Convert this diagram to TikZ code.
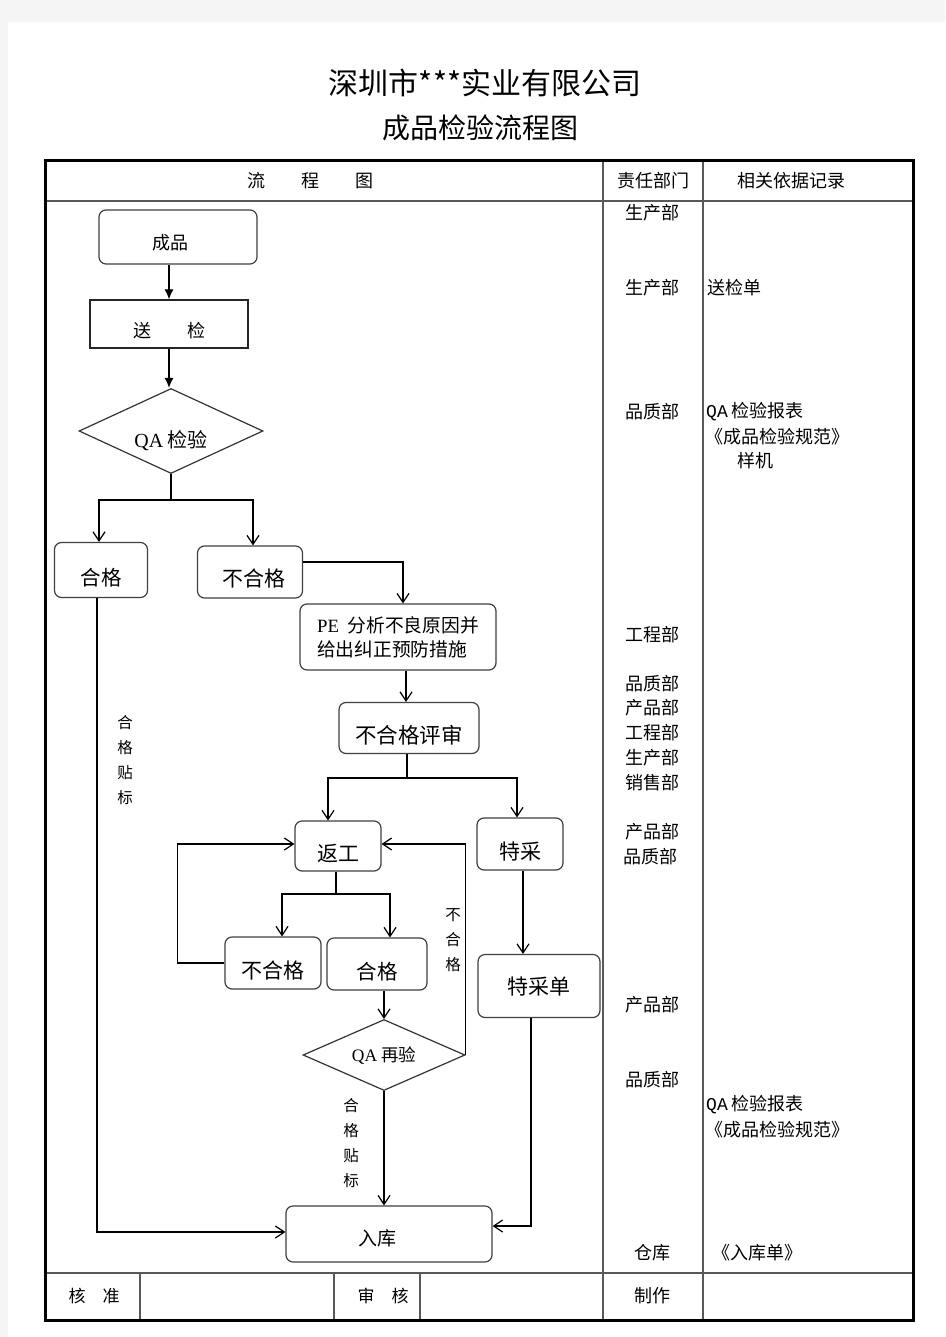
\documentclass[tikz,border=0pt]{standalone}
\usepackage{fontspec}
\setmainfont{Noto Sans CJK SC}
\newfontfamily\latin{Liberation Serif}
\newfontfamily\mono{Liberation Mono}
\usetikzlibrary{shapes.geometric,arrows.meta}

\begin{document}
\begin{tikzpicture}[x=1pt,y=-1pt,
    box/.style={draw=black!75,line width=1.2pt,rounded corners=7pt,inner sep=0pt,font=\fontsize{21}{24}\selectfont},
    sqbox/.style={draw=black!85,line width=1.2pt,inner sep=0pt,font=\fontsize{18}{20}\selectfont},
    dia/.style={draw=black!80,line width=1.2pt,diamond,aspect=2.2,inner sep=0pt},
    drop/.style={text depth=0pt,text height=#1},
    arr/.style={-{Straight Barb[length=9pt,width=12pt]},line width=1.2pt},
    farr/.style={-{Latex[length=10pt,width=9pt]},line width=1.2pt},
    dept/.style={inner sep=0pt,font=\fontsize{18}{20}\selectfont},
    rec/.style={dept,anchor=west},
    vlab/.style={align=center,inner sep=0pt,font=\fontsize{15.5}{25}\selectfont},
    grid/.style={draw=black!65,line width=1.2pt}]
  \useasboundingbox (0,0) rectangle (945,1337);
  \fill[black!4] (0,0) rectangle (945,1337);
  \fill[white] (8,22) rectangle (945,1337);

  \node[font=\fontsize{30}{32}\selectfont] (title) at (485,83) {深圳市***实业有限公司};
  \node[font=\fontsize{28}{30}\selectfont] (subtitle) at (480,128) {成品检验流程图};

  \draw[grid] (45,201) -- (913,201) (45,1273) -- (913,1273)
    (603,161) -- (603,1320) (703,161) -- (703,1320)
    (140,1273) -- (140,1320) (334,1273) -- (334,1320) (420,1273) -- (420,1320);
  \draw[line width=3pt] (45,161) rectangle (913,1320);

  \node[dept] (hflow) at (310,181) {流　　程　　图};
  \node[dept] (hdept) at (653,181) {责任部门};
  \node[dept] (hrec) at (791,181) {相关依据记录};
  \node[dept,font=\fontsize{17}{20}\selectfont] (fapprove) at (94,1296) {核　准};
  \node[dept,font=\fontsize{17}{20}\selectfont] (fcheck) at (383,1296) {审　核};
  \node[dept] (fmake) at (652,1296) {制作};

  \foreach \y/\t in {213/生产部,288/生产部,412/品质部,635/工程部,684/品质部,708/产品部,733/工程部,758/生产部,783/销售部,832/产品部,1005/产品部,1080/品质部,1253/仓库}
    \node[dept] (d\y) at (652,\y) {\t};
  \node[dept] (d857) at (650,857) {品质部};

  \node[rec] (rsend) at (707,288) {送检单};
  \node[rec] (rqa) at (706,412) {{\mono QA} 检验报表};
  \node[rec] (rspec) at (705,437) {《成品检验规范》};
  \node[rec] (rsample) at (737,461) {样机};
  \node[rec] (rqa2) at (706,1105) {{\mono QA} 检验报表};
  \node[rec] (rspec2) at (705,1130) {《成品检验规范》};
  \node[rec] (rstore) at (712,1253) {《入库单》};

  \node[box,drop=26pt,minimum width=158,minimum height=54,font=\fontsize{18}{20}\selectfont] (product) at (178,237) {成品\kern16pt};
  \node[sqbox,drop=26pt,minimum width=158,minimum height=48] (send) at (169,324) {送　　检};
  \node[dia,drop=33pt,minimum width=184,minimum height=85,font=\fontsize{20}{22}\selectfont] (qa) at (171,431) {{\latin QA} 检验};
  \node[box,drop=30pt,minimum width=93,minimum height=55,font=\fontsize{20.5}{24}\selectfont] (pass) at (101,570) {合格};
  \node[box,drop=28pt,minimum width=105,minimum height=52] (fail) at (250,572) {\kern7pt 不合格};
  \node[box,minimum width=196,minimum height=66,align=left,font=\fontsize{18.75}{24}\selectfont] (pe) at (398,637) {{\latin PE}\ \ 分析不良原因并\\给出纠正预防措施};
  \node[box,drop=30pt,minimum width=140,minimum height=51,font=\fontsize{21.5}{24}\selectfont] (review) at (409,728) {不合格评审};
  \node[box,drop=30pt,minimum width=86,minimum height=50] (rework) at (338,846) {返工};
  \node[box,drop=30pt,minimum width=86,minimum height=52] (special) at (520,844) {特采};
  \node[box,drop=30pt,minimum width=96,minimum height=52] (rfail) at (273,963) {不合格};
  \node[box,drop=30pt,minimum width=100,minimum height=52,font=\fontsize{20.5}{24}\selectfont] (rpass) at (377,964) {合格};
  \node[dia,minimum width=162,minimum height=71,font=\fontsize{17.5}{20}\selectfont] (recheck) at (384,1055) {{\latin QA} 再验};
  \node[box,minimum width=122,minimum height=63] (sform) at (539,986) {特采单};
  \node[box,drop=22pt,minimum width=206,minimum height=56,font=\fontsize{19}{22}\selectfont] (store) at (389,1234) {入库\kern24pt};

  \node[vlab] (lab1) at (125,760) {合\\格\\贴\\标};
  \node[vlab] (lab2) at (351,1143) {合\\格\\贴\\标};
  \node[vlab] (lab3) at (453,940) {不\\合\\格};

  \coordinate (qsplit) at (171,500);
  \coordinate (rsplit) at (407,778);
  \coordinate (wsplit) at (336,894);

  \draw[farr] (product.south -| send.north) -- (send.north);
  \draw[farr] (send.south) -- (send.south |- qa.north);
  \draw[line width=1.2pt] (qa.south) -- (qsplit);
  \draw[arr] (qsplit) -| ([xshift=-2]pass.north);
  \draw[arr] (qsplit) -| ([xshift=3]fail.north);
  \draw[arr] ([yshift=10]fail.east) -| ([xshift=5]pe.north);
  \draw[arr] ([xshift=-3]review.north |- pe.south) -- ([xshift=-3]review.north);
  \draw[line width=1.2pt] ([xshift=-2]review.south) -- (rsplit);
  \draw[arr] (rsplit) -| ([xshift=-10]rework.north);
  \draw[arr] (rsplit) -| ([xshift=-3]special.north);
  \draw[line width=1.2pt] ([xshift=-2]rework.south) -- (wsplit);
  \draw[arr] (wsplit) -| ([xshift=9]rfail.north);
  \draw[arr] (wsplit) -| ([xshift=13]rpass.north);
  \draw[arr] (rfail.west) -- ++(-47,0) |- ([yshift=2]rework.west);
  \draw[arr] (recheck.north |- rpass.south) -- (recheck.north);
  \draw[arr] (recheck.east) |- ([yshift=2]rework.east);
  \draw[arr] ([xshift=3]special.south) -- ([xshift=3]special.south |- sform.north);
  \draw[arr] ([xshift=-8]sform.south) |- ([yshift=8]store.east);
  \draw[arr] (recheck.south) -- (recheck.south |- store.north);
  \draw[arr] ([xshift=-4]pass.south) |- ([yshift=2]store.west);
\end{tikzpicture}
\end{document}
